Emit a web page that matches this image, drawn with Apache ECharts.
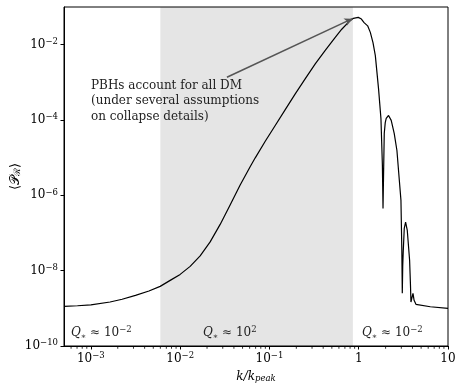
<!DOCTYPE html>
<html>
<head>
<meta charset="utf-8">
<script src="https://cdn.jsdelivr.net/npm/echarts@6/dist/echarts.min.js"></script>
<style>
  html, body {margin: 0; padding: 0; background: #fff;}
  #main {width: 455px; height: 384px;}
</style>
</head>
<body>
<div id="main"></div>
<script>
// k / k_peak
const kValues = [
  5.02e-4, 7.08e-4, 1e-3, 1.64e-3, 2.24e-3, 3.16e-3, 4.47e-3, 5.97e-3, 7.73e-3, 1e-2,
  1.294e-2, 1.675e-2, 2.168e-2, 2.806e-2, 3.64e-2, 4.70e-2, 6.10e-2, 6.934e-2, 8.974e-2,
  0.1161, 0.1503, 0.1945, 0.2512, 0.3258, 0.4217, 0.5458, 0.6457, 0.7691, 0.871,
  0.9886, 1.072, 1.148, 1.259, 1.349, 1.445, 1.535, 1.667, 1.774, 1.841,
  1.871, 1.884, 1.901, 1.932, 1.982, 2.032, 2.158, 2.312, 2.500, 2.679,
  2.851, 2.972, 3.04, 3.076, 3.112, 3.155, 3.236, 3.350, 3.499, 3.715,
  3.80, 3.846, 3.954, 4.055, 4.17, 4.375, 6.34, 10
];
// <P_R>
const powerValues = [
  1.13e-9, 1.17e-9, 1.24e-9, 1.47e-9, 1.74e-9, 2.21e-9, 2.88e-9, 3.83e-9, 5.52e-9, 7.96e-9,
  1.30e-8, 2.47e-8, 5.80e-8, 1.69e-7, 5.64e-7, 1.88e-6, 5.82e-6, 9.91e-6, 2.72e-5,
  7.16e-5, 1.89e-4, 4.93e-4, 1.23e-3, 3.08e-3, 7.08e-3, 1.56e-2, 2.57e-2, 3.98e-2, 5.01e-2,
  5.30e-2, 4.79e-2, 3.84e-2, 3.16e-2, 2.12e-2, 1.13e-2, 5.11e-3, 6.82e-4, 1.09e-4, 6.3e-6,
  4.48e-7, 1.2e-6, 4.57e-6, 4.37e-5, 8.5e-5, 1.10e-4, 1.32e-4, 9.77e-5, 4.37e-5, 1.55e-5,
  2.48e-6, 7.33e-7, 3.45e-8, 2.5e-9, 1.38e-8, 3.39e-8, 1.32e-7, 1.94e-7, 1.17e-7, 1.89e-8,
  4.07e-9, 1.47e-9, 1.95e-9, 2.5e-9, 1.63e-9, 1.28e-9, 1.10e-9, 1.0e-9
];
const bandRange = [6e-3, 0.86];
const xMajorTicks = [1e-3, 1e-2, 0.1, 1, 10];
const yMajorTicks = [1e-10, 1e-8, 1e-6, 1e-4, 1e-2];
const xMinorTicks = [
  6e-4, 7e-4, 8e-4, 9e-4,
  2e-3, 3e-3, 4e-3, 5e-3, 6e-3, 7e-3, 8e-3, 9e-3,
  2e-2, 3e-2, 4e-2, 5e-2, 6e-2, 7e-2, 8e-2, 9e-2,
  0.2, 0.3, 0.4, 0.5, 0.6, 0.7, 0.8, 0.9,
  2, 3, 4, 5, 6, 7, 8, 9
];
const annotationLines = [
  'PBHs account for all DM',
  '(under several assumptions',
  'on collapse details)'
];
const arrowFrom = [0.0334, 1.36e-3];
const arrowTo = [0.85, 4.9e-2];
const qLabels = [
  {left: 71, exp: '−2'},
  {left: 203, exp: '2'},
  {left: 362, exp: '−2'}
];

const serif = '"DejaVu Serif", "Liberation Serif", serif';

function logLabel(v) {
  const l = Math.log10(v);
  const e = Math.round(l);
  if (Math.abs(l - e) > 1e-6) return '';
  if (e === 0) return '1';
  if (e === 1) return '10';
  return '10{sup|' + (e < 0 ? '−' : '') + Math.abs(e) + '}';
}

const labelRich = {
  sup: {fontSize: 8.5, fontFamily: serif, color: '#000', verticalAlign: 'top', lineHeight: 9}
};

const chart = echarts.init(document.getElementById('main'));
chart.setOption({
  animation: false,
  backgroundColor: '#fff',
  grid: {
    left: 64, right: 7, top: 7, bottom: 38,
    containLabel: false, outerBoundsMode: 'none',
    show: true, borderColor: '#000', borderWidth: 1,
    backgroundColor: 'transparent', z: 10
  },
  xAxis: {
    type: 'log',
    min: 5e-4,
    max: 10,
    name: '{i|k/k}{sub|peak}',
    nameLocation: 'middle',
    nameGap: 25,
    nameMoveOverlap: false,
    nameTextStyle: {
      fontFamily: serif, fontSize: 12, color: '#000',
      rich: {
        i: {fontStyle: 'italic', fontSize: 12, fontFamily: serif, color: '#000'},
        sub: {fontStyle: 'italic', fontSize: 8.5, fontFamily: serif, color: '#000', verticalAlign: 'bottom'}
      }
    },
    axisLine: {lineStyle: {color: '#000', width: 1}},
    axisTick: {inside: false, length: 3.5, lineStyle: {color: '#000'}, customValues: xMajorTicks},
    axisLabel: {
      fontFamily: serif, fontSize: 12, color: '#000', lineHeight: 15, margin: 5,
      customValues: xMajorTicks,
      formatter: v => logLabel(v),
      rich: labelRich
    },
    splitLine: {show: false},
    z: 10
  },
  yAxis: {
    type: 'log',
    min: 1e-10,
    max: 0.1,
    name: '⟨{i|𝒫}{sub|ℛ}⟩',
    nameLocation: 'middle',
    nameGap: 42,
    nameMoveOverlap: false,
    nameRotate: 90,
    nameTextStyle: {
      fontFamily: serif, fontSize: 13, color: '#000',
      rich: {
        i: {fontSize: 13, fontFamily: serif, color: '#000'},
        sub: {fontSize: 9, fontFamily: serif, color: '#000', verticalAlign: 'bottom'}
      }
    },
    axisLine: {lineStyle: {color: '#000', width: 1}},
    axisTick: {inside: false, length: 3.5, lineStyle: {color: '#000'}, customValues: yMajorTicks},
    axisLabel: {
      fontFamily: serif, fontSize: 12, color: '#000', lineHeight: 15, margin: 6,
      customValues: yMajorTicks,
      formatter: v => logLabel(v),
      rich: labelRich
    },
    splitLine: {show: false},
    z: 10
  },
  graphic: [
    {
      type: 'text', left: 91, top: 78, z: 20,
      style: {
        text: annotationLines.join('\n'),
        font: '12px ' + serif,
        lineHeight: 15.5,
        fill: '#222'
      }
    }
  ].concat(qLabels.map(q => ({
    type: 'text', left: q.left, top: 325, z: 20,
    style: {
      text: '{i|Q}{sub|∗} ≈ 10{sup|' + q.exp + '}',
      font: '12px ' + serif,
      fill: '#222',
      lineHeight: 16,
      rich: {
        i: {fontStyle: 'italic', fontSize: 12, fontFamily: serif, fill: '#222', lineHeight: 16},
        sub: {fontSize: 8, fontFamily: serif, fill: '#222', lineHeight: 12, verticalAlign: 'bottom'},
        sup: {fontSize: 8.5, fontFamily: serif, fill: '#222', lineHeight: 9, verticalAlign: 'top'}
      }
    }
  }))),
  series: [
    {
      type: 'line',
      data: [],
      z: 1,
      silent: true,
      markArea: {
        silent: true,
        itemStyle: {color: '#e5e5e5'},
        data: [[{xAxis: bandRange[0]}, {xAxis: bandRange[1]}]]
      }
    },
    {
      type: 'line',
      z: 3,
      data: kValues.map((k, i) => [k, powerValues[i]]),
      showSymbol: false,
      silent: true,
      lineStyle: {color: '#000', width: 1.2},
      markLine: {
        silent: true,
        symbol: ['none', 'arrow'],
        symbolSize: [6, 8],
        label: {show: false},
        lineStyle: {color: '#555', width: 1.5, type: 'solid'},
        data: [[{coord: arrowFrom}, {coord: arrowTo}]]
      }
    },
    {
      type: 'scatter',
      z: 10,
      silent: true,
      clip: false,
      symbol: 'rect',
      symbolSize: [1, 2.5],
      symbolOffset: [0, 1.5],
      itemStyle: {color: '#000'},
      data: xMinorTicks.map(k => [k, 1e-10])
    }
  ]
});
</script>
</body>
</html>
